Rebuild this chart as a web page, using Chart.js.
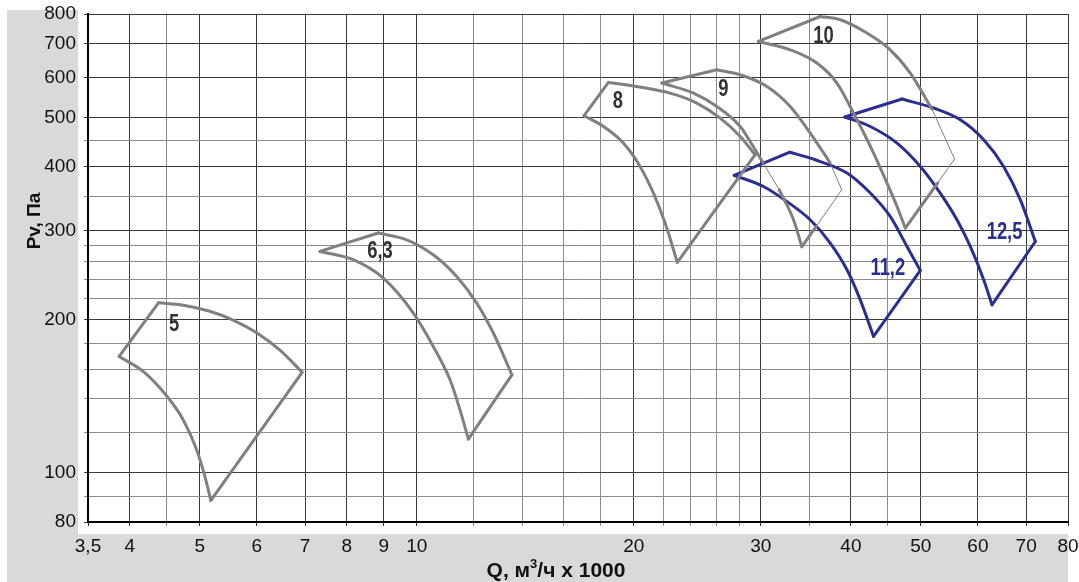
<!DOCTYPE html>
<html>
<head>
<meta charset="utf-8">
<script src="https://cdn.jsdelivr.net/npm/chart.js@4"></script>
<style>
  html, body { margin: 0; padding: 0; background: #fff; }
  #wrap { width: 1079px; height: 582px; }
</style>
</head>
<body>
<div id="wrap"><canvas id="fanChart"></canvas></div>
<script>
// axis ticks (log scales)
const xTicks = [3.5, 4, 4.5, 5, 6, 7, 8, 9, 10, 12, 14, 16, 18, 20, 22, 24, 26, 28, 30, 35, 40, 45, 50, 60, 70, 80];
const xLabels = [3.5, 4, 5, 6, 7, 8, 9, 10, 20, 30, 40, 50, 60, 70, 80];
const yTicks = [80, 90, 100, 120, 140, 160, 180, 200, 220, 240, 260, 280, 300, 350, 400, 450, 500, 600, 700, 800];
const yLabels = [80, 100, 200, 300, 400, 500, 600, 700, 800];

// fan working areas, points are [Q, Pv]
const fan5Upper = [[4.384, 216], [4.743, 213.7], [5.165, 208], [5.563, 199.8], [5.997, 188.6], [6.46, 174.4], [6.935, 157.7]];
const fan5Lower = [[3.866, 169.4], [4.174, 158.3], [4.497, 141.8], [4.743, 127.2], [4.951, 111], [5.084, 98.3], [5.182, 88.2]];

const fan63Upper = [[8.843, 296.4], [9.684, 287.5], [10.54, 268.6], [11.36, 243.4], [12.11, 215.8], [12.77, 188.4], [13.55, 155.9]];
const fan63Lower = [[7.34, 272.7], [8.163, 262.7], [8.987, 241.6], [9.891, 206.2], [10.54, 177.3], [11.12, 152.4], [11.48, 133], [11.79, 116.5]];

const fan8Upper = [[18.44, 586.6], [20.19, 576], [22.46, 559], [24.45, 534.3], [26.35, 499], [28.09, 459.2], [29.46, 422.7]];
const fan8Lower = [[17.06, 504.5], [18.15, 480.5], [19.34, 445.7], [20.4, 400.9], [21.29, 355.3], [22.1, 310.1], [22.98, 259.4]];

// fan 9 and 10 are drawn thin where they run inside 11,2 / 12,5
const fan9Left = [[21.87, 585], [26.07, 621.3]];
const fan9Upper = [[26.07, 621.3], [28.09, 607.4], [30.59, 576], [32.95, 526.1], [35.13, 466.4], [37.44, 407.1]];
const fan9UpperThin = [[37.44, 407.1], [38.84, 360.7]];
const fan9RightThin = [[38.84, 360.7], [35.81, 305.4]];
const fan9Right = [[35.81, 305.4], [34.2, 278.6]];
const fan9LowerA = [[21.87, 585], [24.19, 559], [26.07, 526.1], [28.09, 480.5], [29.18, 442.3], [30.22, 407.6]];
const fan9LowerThin = [[30.22, 407.6], [31.81, 360.7]];
const fan9LowerB = [[31.81, 360.7], [33.3, 314.8], [34.2, 278.6]];

const fan10Left = [[29.77, 706.3], [36.26, 791]];
const fan10Upper = [[36.26, 791], [38.66, 779.3], [42.1, 733.7], [45.34, 680.2], [48.35, 612.1], [51.81, 520]];
const fan10UpperThin = [[51.81, 520], [55.69, 414.6]];
const fan10RightThin = [[55.69, 414.6], [52.76, 371.8]];
const fan10Right = [[52.76, 371.8], [47.58, 303.2]];
const fan10Lower = [[29.77, 706.3], [32.95, 680.2], [35.88, 640.5], [38.25, 585], [40.33, 510.7], [43.0, 426], [44.88, 371.8], [46.34, 334.4], [47.58, 303.2]];

const fan112Upper = [[32.91, 427.6], [35.68, 413.2], [39.5, 389], [42.55, 355.3], [45.34, 319.6], [47.84, 279], [49.92, 250.2]];
const fan112Lower = [[27.55, 385.1], [30.25, 366.1], [32.6, 342], [35.12, 314.8], [37.44, 283.3], [39.5, 251], [41.21, 219], [43.0, 185.5]];

const fan125Upper = [[47.09, 544.1], [52.08, 522.4], [56.72, 495.4], [61.12, 452.5], [65.13, 400.9], [68.71, 344.6], [72.08, 285.3]];
const fan125Lower = [[39.22, 501.5], [42.55, 480.5], [46.34, 445.7], [49.92, 400.9], [53.2, 355.3], [56.12, 314.8], [58.56, 279], [61.12, 239.9], [62.76, 214.1]];

// fan size labels
const fanNames = ["5", "6,3", "8", "9", "10", "11,2", "12,5"];
const nameQ = [4.608, 8.892, 19.0, 26.62, 36.65, 45.0, 65.33];
const nameP = [195.6, 271.9, 538.2, 567.5, 722.6, 251.8, 296.4];

const GREY = "#808080";
const BLUE = "#2b3090";
const SANS = "'Liberation Sans', Arial, sans-serif";

function line(points, color, width, smooth) {
  return {
    data: points,
    showLine: true,
    borderColor: color,
    borderWidth: width,
    tension: smooth ? 0.4 : 0,
    cubicInterpolationMode: smooth ? "monotone" : "default",
    pointRadius: 0,
    borderCapStyle: "round",
    borderJoinStyle: "round",
  };
}

function fan(upper, lower, color) {
  return [
    line(upper, color, 3, true),
    line(lower, color, 3, true),
    line([lower[0], upper[0]], color, 3, false),
    line([upper[upper.length - 1], lower[lower.length - 1]], color, 3, false),
  ];
}

const datasets = [
  ...fan(fan5Upper, fan5Lower, GREY),
  ...fan(fan63Upper, fan63Lower, GREY),
  ...fan(fan8Upper, fan8Lower, GREY),
  line(fan9Left, GREY, 3, false),
  line(fan9Upper, GREY, 3, true),
  line(fan9UpperThin, GREY, 1, false),
  line(fan9RightThin, GREY, 1, false),
  line(fan9Right, GREY, 3, false),
  line(fan9LowerA, GREY, 3, true),
  line(fan9LowerThin, GREY, 1, false),
  line(fan9LowerB, GREY, 3, true),
  line(fan10Left, GREY, 3, false),
  line(fan10Upper, GREY, 3, true),
  line(fan10UpperThin, GREY, 1, false),
  line(fan10RightThin, GREY, 1, false),
  line(fan10Right, GREY, 3, false),
  line(fan10Lower, GREY, 3, true),
  ...fan(fan112Upper, fan112Lower, BLUE),
  ...fan(fan125Upper, fan125Lower, BLUE),
];

// grey panels behind the axis labels
const panels = {
  id: "panels",
  beforeDraw(chart) {
    const c = chart.ctx;
    c.save();
    c.fillStyle = "#fff";
    c.fillRect(0, 0, chart.width, chart.height);
    c.fillStyle = "#d9d9d9";
    c.fillRect(7, 10, 71, chart.height - 10);
    c.fillRect(78, 534, 990, chart.height - 534);
    c.restore();
  },
};

// narrow-looking text: squeeze a normal face horizontally
function narrowText(c, text, x, y, k) {
  c.save();
  c.translate(x, y);
  c.scale(k, 1);
  c.fillText(text, 0, 0);
  c.restore();
}

const texts = {
  id: "texts",
  afterDatasetsDraw(chart) {
    const c = chart.ctx;
    const x = chart.scales.x;
    const y = chart.scales.y;
    c.save();
    c.textAlign = "center";
    c.textBaseline = "middle";
    c.font = "bold 23px " + SANS;
    fanNames.forEach((name, i) => {
      c.fillStyle = i < 5 ? "#333" : BLUE;
      narrowText(c, name, x.getPixelForValue(nameQ[i]), y.getPixelForValue(nameP[i]), 0.8);
    });

    // axis titles
    c.fillStyle = "#111";
    c.font = "bold 19px " + SANS;
    c.save();
    c.translate(35, 221);
    c.rotate(-Math.PI / 2);
    c.fillText("Pv, Па", 0, 0);
    c.restore();

    c.textAlign = "left";
    c.textBaseline = "alphabetic";
    const a = "Q, м", s = "3", b = "/ч x 1000";
    c.font = "bold 21px " + SANS;
    const wa = c.measureText(a).width, wb = c.measureText(b).width;
    c.font = "bold 13px " + SANS;
    const ws = c.measureText(s).width;
    const px = 556 - (wa + ws + wb) / 2;
    c.font = "bold 21px " + SANS;
    c.fillText(a, px, 577);
    c.font = "bold 13px " + SANS;
    c.fillText(s, px + wa, 568);
    c.font = "bold 21px " + SANS;
    c.fillText(b, px + wa + ws, 577);
    c.restore();
  },
};

function gridColor(labels) {
  return (ctx) => (ctx.tick && labels.includes(ctx.tick.value) ? "#3a3a3a" : "#8c8c8c");
}

Chart.defaults.font.family = SANS;

new Chart(document.getElementById("fanChart"), {
  type: "scatter",
  data: { datasets: datasets },
  options: {
    responsive: true,
    maintainAspectRatio: false,
    animation: false,
    layout: { padding: { left: 0, right: 11, top: 14, bottom: 0 } },
    plugins: {
      legend: { display: false },
      tooltip: { enabled: false },
    },
    scales: {
      x: {
        type: "logarithmic",
        min: 3.5,
        max: 80,
        afterBuildTicks: (axis) => {
          axis.ticks = xTicks.map((v) => ({ value: v }));
        },
        afterFit: (axis) => {
          axis.height = 60;
          axis.paddingLeft = 0;
          axis.paddingRight = 0;
        },
        grid: { color: gridColor(xLabels), lineWidth: 1, tickLength: 4 },
        border: { color: "#000", width: 2 },
        ticks: {
          autoSkip: false,
          maxRotation: 0,
          padding: 9,
          color: "#111",
          font: { size: 19 },
          callback: (v) => (xLabels.includes(v) ? String(v).replace(".", ",") : ""),
        },
      },
      y: {
        type: "logarithmic",
        min: 80,
        max: 800,
        afterBuildTicks: (axis) => {
          axis.ticks = yTicks.map((v) => ({ value: v }));
        },
        afterFit: (axis) => {
          axis.width = 88;
          axis.paddingTop = 0;
          axis.paddingBottom = 0;
        },
        grid: { color: gridColor(yLabels), lineWidth: 1, tickLength: 4 },
        border: { color: "#000", width: 2 },
        ticks: {
          autoSkip: false,
          padding: 8,
          color: "#111",
          font: { size: 19 },
          callback: (v) => (yLabels.includes(v) ? String(v) : ""),
        },
      },
    },
  },
  plugins: [panels, texts],
});
</script>
</body>
</html>
